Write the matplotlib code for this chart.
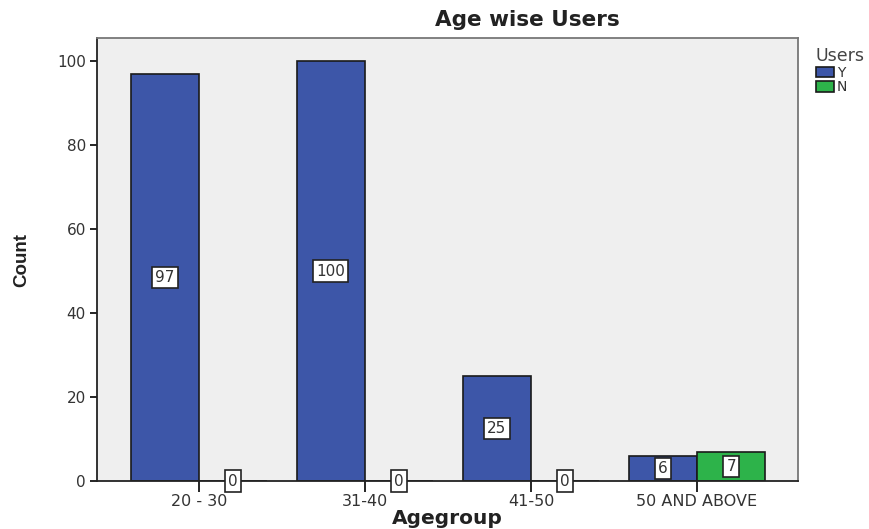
import matplotlib
matplotlib.use("Agg")
import matplotlib.pyplot as plt
import numpy as np

plt.rcParams['font.family'] = ['DejaVu Sans']

categories = ["20 - 30", "31-40", "41-50", "50 AND ABOVE"]
users_y = [97, 100, 25, 6]
users_n = [0, 0, 0, 7]
series_names = ["Y", "N"]
colors = ["#3D56A8", "#2DB34A"]

W, H = 870, 529
fig = plt.figure(figsize=(W / 100, H / 100), dpi=100)
ax = fig.add_axes([97 / W, 1 - 481 / H, (798 - 97) / W, (481 - 38) / H])
ax.set_facecolor("#EFEFEF")

x = np.arange(len(categories))
width = 0.41
bars_y = ax.bar(x - width / 2, users_y, width, color=colors[0], edgecolor="#1a1a1a", linewidth=1.2, label=series_names[0])
bars_n = ax.bar(x + width / 2, users_n, width, color=colors[1], edgecolor="#1a1a1a", linewidth=1.2, label=series_names[1])

ax.set_xlim(-0.614, 3.608)
ax.set_ylim(0, 105.5)
ax.set_yticks([0, 20, 40, 60, 80, 100])
ax.set_xticks(x)
ax.set_xticklabels(categories)
ax.tick_params(axis='y', length=5, width=1.2, labelsize=11, pad=3)
ax.tick_params(axis='x', length=8, width=1.2, labelsize=11.5, pad=1)
for lbl in ax.get_xticklabels() + ax.get_yticklabels():
    lbl.set_color("#333333")

for side in ["left", "bottom"]:
    ax.spines[side].set_color("#222222")
    ax.spines[side].set_linewidth(1.3)
for side in ["top", "right"]:
    ax.spines[side].set_color("#777777")
    ax.spines[side].set_linewidth(1.3)

box = dict(boxstyle="square,pad=0.2", facecolor="white", edgecolor="#222222", linewidth=1.2)
for bars, vals in [(bars_y, users_y), (bars_n, users_n)]:
    for b, v in zip(bars, vals):
        ax.text(b.get_x() + b.get_width() / 2, v / 2, str(v), ha="center", va="center",
                fontsize=11, color="#333333", bbox=box, clip_on=False, zorder=5)

fig.text(527 / W, 1 - 20 / H, "Age wise Users", ha="center", va="center",
         fontsize=15.5, fontweight="bold", color="#222222")
fig.text(447 / W, 1 - 518 / H, "Agegroup", ha="center", va="center",
         fontsize=14.5, fontweight="bold", color="#222222")
fig.text(22 / W, 1 - 260 / H, "Count", ha="center", va="center", rotation=90,
         fontsize=13.5, fontweight="bold", color="#222222", family="Liberation Sans")

leg = fig.legend(handles=[bars_y, bars_n], labels=series_names, title="Users",
                 loc="upper left", bbox_to_anchor=(809 / W, 1 - 40 / H), frameon=False,
                 fontsize=10, title_fontsize=12.5, handlelength=1.3, handleheight=0.8,
                 handletextpad=0.2, labelspacing=0.05, borderpad=0, alignment="left")
leg.get_title().set_color("#444444")
for t in leg.get_texts():
    t.set_color("#333333")

fig.savefig("out.png", dpi=100)
